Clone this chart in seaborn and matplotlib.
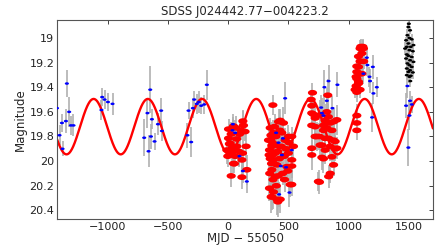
import matplotlib
matplotlib.use("Agg")
import matplotlib.pyplot as plt
import numpy as np
import pandas as pd
import seaborn as sns
from matplotlib.path import Path
from matplotlib.ticker import FormatStrFormatter

# ── data ──────────────────────────────────────────────────────────────────────

blue_mjd = [-1421, -1400, -1380, -1375, -1347, -1339, -1320, -1306, -1284,
            -1052, -1046, -1026, -998, -960,
            -697, -670, -661, -647, -641, -633, -611, -583, -556, -550,
            -338, -329, -307, -293, -282, -260, -243, -224, -199, -177,
            39, 36, 58, 94, 122, 155,
            398, 418, 437, 446, 454, 473, 481, 528, 423, 509,
            772, 778, 791, 799, 819, 833, 866, 907,
            1123, 1151, 1156, 1173, 1178, 1195, 1201, 1206, 1234,
            1477, 1488, 1496, 1505, 1510, 1524]
blue_mag = [19.57, 19.79, 19.69, 19.90, 19.675, 19.37, 19.60, 19.71, 19.71,
            19.585, 19.48, 19.50, 19.52, 19.535,
            19.81, 19.61, 19.92, 19.42, 19.80, 19.66, 19.84, 19.70, 19.59, 19.755,
            19.79, 19.59, 19.845, 19.57, 19.50, 19.535, 19.52, 19.55, 19.54, 19.38,
            19.70, 19.75, 19.77, 19.96, 20.08, 20.165,
            19.77, 19.85, 20.04, 19.95, 19.815, 19.49, 20.05, 19.91, 20.27, 20.255,
            19.565, 19.61, 19.63, 19.40, 19.51, 19.35, 19.57, 19.38,
            19.29, 19.16, 19.22, 19.315, 19.35, 19.645, 19.235, 19.45, 19.40,
            19.55, 19.39, 19.89, 19.63, 19.51, 19.54]
blue_err = [0.12, 0.08, 0.07, 0.06, 0.10, 0.11, 0.12, 0.08, 0.09,
            0.08, 0.07, 0.08, 0.07, 0.09,
            0.15, 0.12, 0.13, 0.19, 0.10, 0.08, 0.07, 0.09, 0.10, 0.08,
            0.10, 0.07, 0.12, 0.08, 0.07, 0.08, 0.09, 0.07, 0.08, 0.12,
            0.08, 0.09, 0.10, 0.09, 0.10, 0.09,
            0.12, 0.10, 0.12, 0.10, 0.11, 0.13, 0.10, 0.10, 0.10, 0.12,
            0.10, 0.12, 0.11, 0.14, 0.10, 0.13, 0.10, 0.10,
            0.08, 0.07, 0.09, 0.08, 0.10, 0.12, 0.10, 0.09, 0.08,
            0.10, 0.10, 0.15, 0.12, 0.08, 0.07]

red_mjd = [3, 25, 44, 122, 127, 108, 3, 17, -11, -3, 36, 72, 86, 58, 44,
           119, 149, 114, 155, 114, 25, 52, 10, 70, 95, 30, 140, 65,
           335, 343, 343, 349, 349, 350, 357, 363, 363, 364, 364, 371, 376,
           376, 376, 390, 390, 404, 404, 412, 418, 432, 433, 445, 459, 473,
           487, 500, 500, 515, 528, 528, 542, 528, 528, 355, 368, 382, 396,
           410, 425, 440, 452, 465, 480, 495, 360, 372, 385, 400, 415, 430,
           345, 468, 505, 340,
           689, 694, 694, 694, 694, 694, 700, 708, 722, 722, 722, 736, 749,
           758, 758, 763, 763, 778, 778, 791, 791, 791, 805, 805, 805, 819,
           819, 827, 832, 834, 834, 847, 847, 847, 861, 861, 875, 875, 875,
           888, 888, 902, 902,
           1054, 1062, 1062, 1068, 1068, 1068, 1068, 1068, 1068, 1068, 1068,
           1082, 1082, 1082, 1082, 1095, 1095, 1095, 1095, 1101, 1110, 1110,
           1118, 1123, 1125]
red_mag = [19.74, 19.78, 19.715, 19.675, 19.71, 19.75, 19.815, 19.855, 19.91,
           19.96, 19.89, 19.88, 19.92, 19.96, 20.02, 19.935, 19.88, 19.99,
           20.07, 20.13, 20.12, 20.02, 19.86, 19.82, 19.78, 19.93, 19.76, 19.73,
           19.83, 19.91, 20.22, 19.73, 19.98, 19.83, 20.29, 19.87, 20.07, 19.88,
           20.29, 19.545, 19.77, 19.99, 20.25, 19.935, 20.125, 20.03, 20.31,
           20.33, 19.68, 20.31, 19.67, 19.77, 19.69, 19.83, 20.045, 19.80,
           19.935, 20.19, 19.99, 19.80, 19.88, 20.04, 20.19, 19.79, 19.95,
           19.86, 19.80, 19.92, 19.98, 19.88, 20.10, 19.96, 19.90, 20.08,
           20.02, 20.15, 19.72, 20.20, 20.12, 19.75, 20.10, 20.15, 19.85, 19.95,
           19.50, 19.55, 19.61, 19.71, 19.895, 19.95, 19.445, 19.62, 19.65,
           19.72, 19.80, 19.80, 20.165, 19.80, 20.17, 19.625, 19.87, 19.87,
           19.97, 19.71, 19.75, 19.98, 19.67, 19.815, 19.91, 19.60, 19.73,
           19.465, 19.64, 19.815, 20.125, 19.69, 19.88, 20.10, 19.75, 19.965,
           19.68, 19.83, 20.03, 19.84, 19.90, 19.665, 19.895,
           19.42, 19.315, 19.39, 19.23, 19.275, 19.33, 19.41, 19.44, 19.63,
           19.69, 19.75, 19.15, 19.235, 19.355, 19.37, 19.085, 19.19, 19.29,
           19.42, 19.07, 19.125, 19.29, 19.07, 19.085, 19.19]
red_err = [0.08, 0.10, 0.07, 0.09, 0.12, 0.08, 0.10, 0.07, 0.11, 0.09, 0.08,
           0.10, 0.12, 0.09, 0.08, 0.11, 0.10, 0.09, 0.12, 0.10, 0.09, 0.08,
           0.10, 0.07, 0.09, 0.11, 0.08, 0.10,
           0.09, 0.12, 0.10, 0.08, 0.11, 0.09, 0.13, 0.10, 0.12, 0.09, 0.11,
           0.08, 0.10, 0.12, 0.14, 0.09, 0.11, 0.12, 0.13, 0.12, 0.10, 0.11,
           0.09, 0.12, 0.13, 0.10, 0.11, 0.09, 0.12, 0.10, 0.11, 0.08, 0.12,
           0.10, 0.09, 0.11, 0.10, 0.12, 0.09, 0.10, 0.13, 0.11, 0.09, 0.10,
           0.12, 0.08, 0.11, 0.13, 0.10, 0.12, 0.09, 0.11, 0.12, 0.10, 0.09,
           0.11,
           0.08, 0.09, 0.10, 0.11, 0.09, 0.12, 0.08, 0.10, 0.09, 0.11, 0.10,
           0.12, 0.08, 0.11, 0.10, 0.12, 0.09, 0.13, 0.10, 0.11, 0.09, 0.12,
           0.13, 0.10, 0.11, 0.12, 0.09, 0.13, 0.10, 0.11, 0.09, 0.10, 0.12,
           0.08, 0.11, 0.09, 0.10, 0.12, 0.09, 0.11, 0.10, 0.12, 0.09,
           0.07, 0.08, 0.06, 0.07, 0.08, 0.06, 0.07, 0.08, 0.09, 0.07, 0.08,
           0.06, 0.07, 0.08, 0.06, 0.07, 0.06, 0.08, 0.07, 0.06, 0.07, 0.08,
           0.06, 0.07, 0.06]

black_mjd = [1496, 1510, 1488, 1505, 1477, 1524, 1496, 1483, 1516, 1469,
             1505, 1533, 1483, 1496, 1524, 1477, 1510, 1538, 1488, 1505,
             1524, 1483, 1510, 1496, 1533, 1483, 1516, 1505, 1538, 1500, 1512]
black_mag = [18.911, 18.938, 18.978, 19.0, 19.019, 19.011, 19.045, 19.072,
             19.072, 19.086, 19.099, 19.108, 19.134, 19.145, 19.154, 19.167,
             19.181, 19.194, 19.207, 19.221, 19.235, 19.248, 19.262, 19.275,
             19.28, 19.302, 19.307, 19.315, 19.058, 18.885, 19.35]
black_err = [0.04, 0.03, 0.05, 0.04, 0.03, 0.04, 0.05, 0.03, 0.04, 0.05,
             0.04, 0.03, 0.04, 0.05, 0.03, 0.04, 0.05, 0.04, 0.03, 0.04,
             0.05, 0.04, 0.03, 0.04, 0.05, 0.04, 0.03, 0.05, 0.04, 0.04, 0.05]

# periodic model drawn in red
model_period = 450.0
model_peak_mjd = -1117.0
model_mean = 19.72
model_amp = 0.225

xlim = (-1420, 1700)
ylim = (20.47, 18.855)
xticks = [-1000, -500, 0, 500, 1000, 1500]
yticks = [19, 19.2, 19.4, 19.6, 19.8, 20, 20.2, 20.4]

# ── style ─────────────────────────────────────────────────────────────────────

sns.set_style("white")
plt.rcParams["font.family"] = ["DejaVu Sans"]
plt.rcParams["font.size"] = 8

# slightly wide ellipse marker (the reference is stretched horizontally)
theta = np.linspace(0, 2 * np.pi, 41)
ellipse = Path(np.column_stack([np.cos(theta), 0.62 * np.sin(theta)]))

fig = plt.figure(figsize=(4.36, 2.45), dpi=100)
ax = fig.add_axes([0.131, 0.106, 0.862, 0.812])

err_kw = dict(fmt="none", ecolor="#b0b0b0", elinewidth=1.2, capsize=0, zorder=1)

# ── model curve ───────────────────────────────────────────────────────────────
t = np.linspace(xlim[0], xlim[1], 1200)
model = pd.DataFrame({
    "mjd": t,
    "mag": model_mean - model_amp * np.cos(2 * np.pi * (t - model_peak_mjd) / model_period),
})
sns.lineplot(data=model, x="mjd", y="mag", color="#ff0000", lw=1.7,
             ax=ax, zorder=2)

# ── photometry ────────────────────────────────────────────────────────────────
ax.errorbar(red_mjd, red_mag, yerr=red_err, **err_kw)
ax.errorbar(blue_mjd, blue_mag, yerr=blue_err, **err_kw)
ax.errorbar(black_mjd, black_mag, yerr=black_err, **err_kw)

sns.scatterplot(x=red_mjd, y=red_mag, marker=ellipse, s=44, color="#ff0000",
                edgecolor="none", linewidth=0, ax=ax, zorder=3)
sns.scatterplot(x=blue_mjd, y=blue_mag, marker=ellipse, s=9, color="#0000ff",
                edgecolor="none", linewidth=0, ax=ax, zorder=4)
sns.scatterplot(x=black_mjd, y=black_mag, marker=ellipse, s=9, color="#000000",
                edgecolor="none", linewidth=0, ax=ax, zorder=4)

# ── axes ──────────────────────────────────────────────────────────────────────
ax.set_xlim(*xlim)
ax.set_ylim(*ylim)
ax.set_xticks(xticks)
ax.set_yticks(yticks)
ax.yaxis.set_major_formatter(FormatStrFormatter("%g"))
ax.tick_params(direction="in", length=3, width=0.6, top=True, right=True,
               labelsize=8, pad=2, colors="#222222")
for sp in ax.spines.values():
    sp.set_color("#555555")
    sp.set_linewidth(0.8)

ax.set_title("SDSS J024442.77\u2212004223.2", fontsize=8.5, pad=4)
ax.set_xlabel("MJD \u2212 55050", fontsize=8.5, labelpad=0)
ax.set_ylabel("Magnitude", fontsize=8.5, labelpad=2)

fig.savefig("out.png", dpi=100)
plt.close(fig)
